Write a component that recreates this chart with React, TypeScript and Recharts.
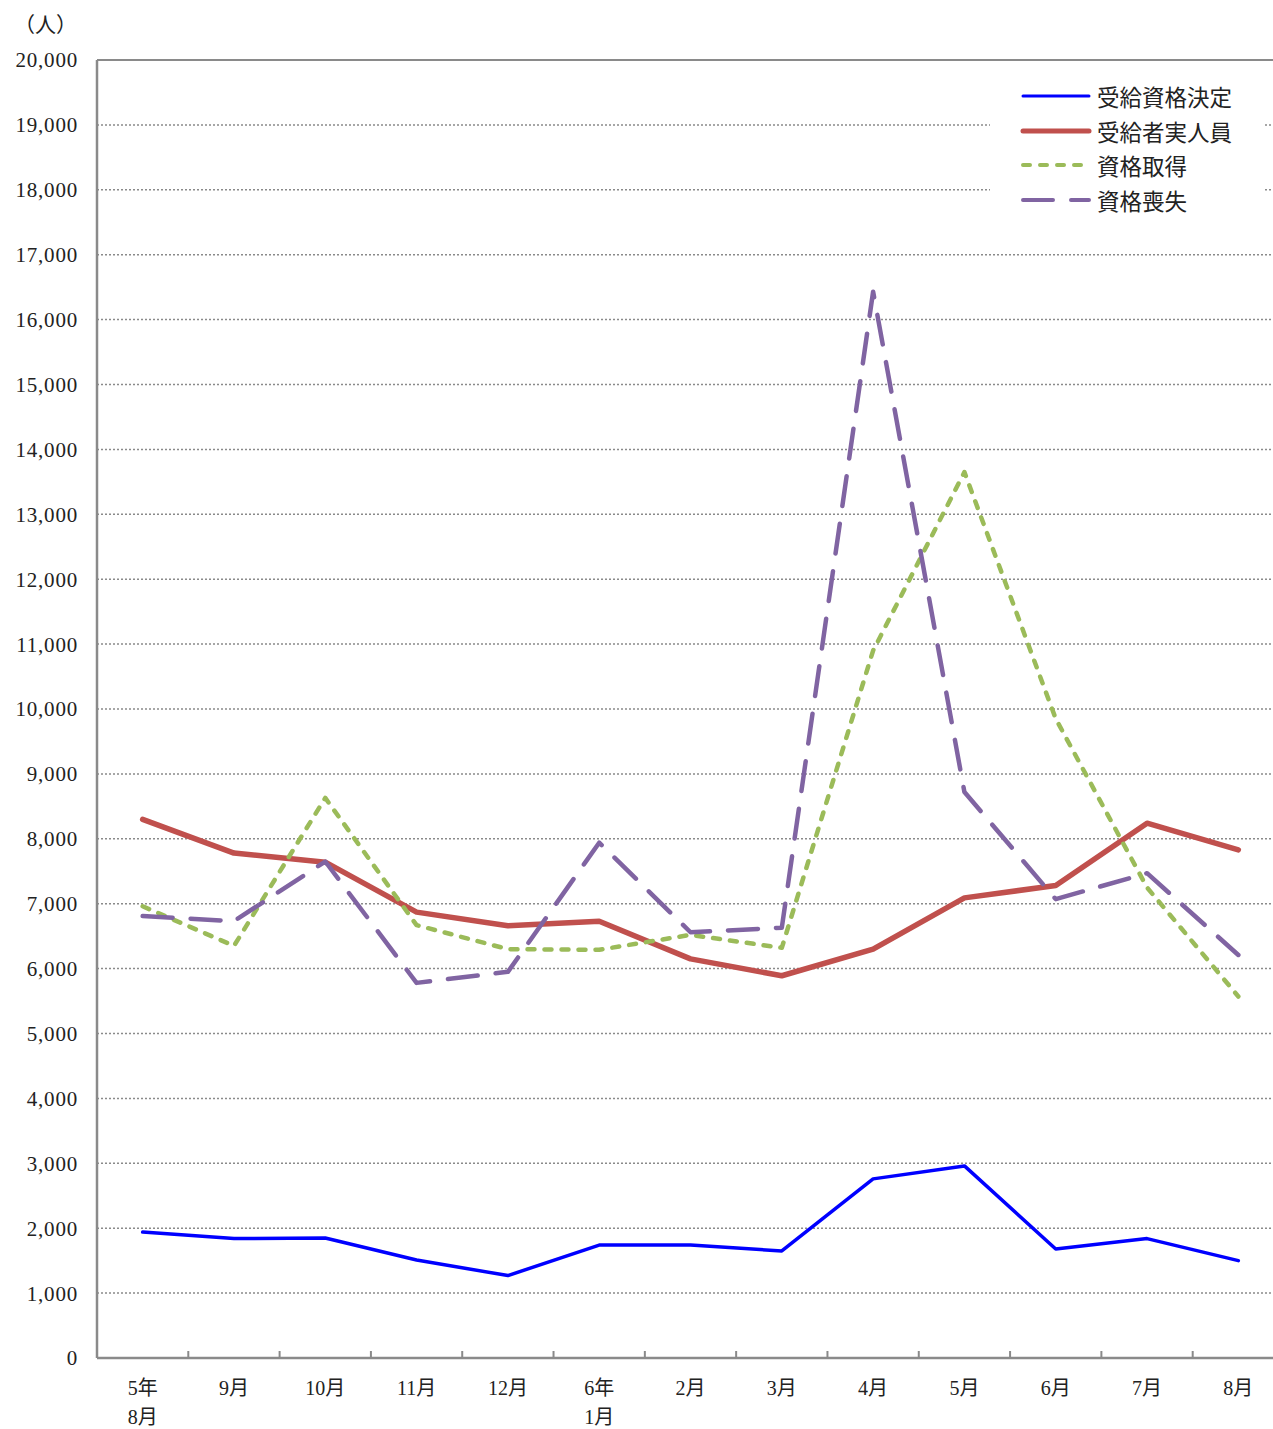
import React from 'react';
import {
  LineChart,
  Line,
  XAxis,
  YAxis,
  CartesianGrid,
  Legend,
  ReferenceLine
} from 'recharts';

// 月別の推移（人）
const categories = ['5年\n8月', '9月', '10月', '11月', '12月', '6年\n1月', '2月', '3月', '4月', '5月', '6月', '7月', '8月'];
const jukyuShikakuKettei = [1940, 1840, 1850, 1510, 1270, 1740, 1740, 1650, 2760, 2960, 1680, 1840, 1500];
const jukyushaJitsuJinin = [8300, 7780, 7640, 6870, 6660, 6730, 6150, 5890, 6300, 7090, 7280, 8240, 7830];
const shikakuShutoku = [6960, 6350, 8630, 6670, 6300, 6290, 6520, 6320, 10900, 13650, 9850, 7250, 5570];
const shikakuSoshitsu = [6810, 6730, 7650, 5780, 5950, 7940, 6560, 6630, 16430, 8720, 7070, 7470, 6210];
const yTicks = [0, 1000, 2000, 3000, 4000, 5000, 6000, 7000, 8000, 9000, 10000, 11000, 12000, 13000, 14000, 15000, 16000, 17000, 18000, 19000, 20000];

const seriesInfo = [
  { key: 'kettei', name: '受給資格決定', color: '#0000ff', width: 3.5, dash: undefined },
  { key: 'jinin', name: '受給者実人員', color: '#c0504d', width: 5.5, dash: undefined },
  { key: 'shutoku', name: '資格取得', color: '#9bbb59', width: 4.5, dash: '7 10' },
  { key: 'soshitsu', name: '資格喪失', color: '#8064a2', width: 4.5, dash: '30 18' }
];

const data = categories.map((c, i) => ({
  month: c,
  kettei: jukyuShikakuKettei[i],
  jinin: jukyushaJitsuJinin[i],
  shutoku: shikakuShutoku[i],
  soshitsu: shikakuSoshitsu[i]
}));

const FONT = '"Liberation Serif", "Noto Sans CJK JP", serif';
const PAD = 45.65; // half a category slot
const GRAY = '#8a8a8a';

const XTick = (props: any) => {
  const { x, y, payload, index } = props;
  const lines = String(payload.value).split('\n');
  return (
    <g>
      {index < categories.length - 1 && (
        <line x1={x + PAD} x2={x + PAD} y1={y - 7} y2={y} stroke={GRAY} strokeWidth={2} />
      )}
      <text x={x} y={y} textAnchor="middle" fontSize={20} fill="#222" fontFamily={FONT}>
        {lines.map((l, i) => (
          <tspan key={i} x={x} dy={i === 0 ? 37 : 29}>{l}</tspan>
        ))}
      </text>
    </g>
  );
};

const renderLegend = () => (
  <div style={{ background: '#fff', width: 275, height: 144, paddingTop: 2, paddingLeft: 30, boxSizing: 'border-box', fontFamily: FONT }}>
    {seriesInfo.map((s) => (
      <div key={s.key} style={{ display: 'flex', alignItems: 'center', height: 34.5 }}>
        <svg width={72} height={10} style={{ marginRight: 5 }}>
          <line x1={3} x2={69} y1={5} y2={5} stroke={s.color} strokeWidth={s.width - 0.5}
            strokeDasharray={s.dash} strokeLinecap="round" />
        </svg>
        <span style={{ fontSize: 22.5, color: '#222', whiteSpace: 'nowrap' }}>{s.name}</span>
      </div>
    ))}
  </div>
);

export default function App() {
  return (
    <div style={{ position: 'absolute', left: 0, top: 0, width: 1273, height: 1429, overflow: 'hidden', background: '#fff' }}>
      <div style={{ position: 'absolute', left: 14, top: 8, fontSize: 21, fontFamily: FONT, color: '#222' }}>（人）</div>
      <LineChart width={1284} height={1429} data={data} margin={{ top: 60, right: 0, left: 0, bottom: 11 }}>
        <CartesianGrid vertical={false} stroke={GRAY} strokeWidth={1.5} strokeDasharray="2 2" />
        <XAxis
          dataKey="month"
          interval={0}
          height={60}
          padding={{ left: PAD, right: PAD }}
          axisLine={{ stroke: GRAY, strokeWidth: 2.5 }}
          tickLine={false}
          tickSize={0}
          tickMargin={0}
          tick={<XTick />}
        />
        <YAxis
          width={97}
          domain={[0, 20000]}
          ticks={yTicks}
          interval={0}
          axisLine={{ stroke: GRAY, strokeWidth: 2.5 }}
          tickLine={false}
          tickSize={0}
          tickMargin={19}
          tick={{ fontSize: 21, fill: '#222', fontFamily: FONT, letterSpacing: 0.8 }}
          tickFormatter={(v: number) => v.toLocaleString('en-US')}
        />
        <ReferenceLine y={20000} stroke={GRAY} strokeWidth={2} />
        <Legend
          layout="vertical"
          align="center"
          verticalAlign="middle"
          content={renderLegend}
          wrapperStyle={{ position: 'absolute', top: 77, left: 990, width: 275 }}
        />
        {seriesInfo.map((s) => (
          <Line
            key={s.key}
            dataKey={s.key}
            name={s.name}
            type="linear"
            stroke={s.color}
            strokeWidth={s.width}
            strokeDasharray={s.dash}
            strokeLinecap="round"
            strokeLinejoin="round"
            dot={false}
            activeDot={false}
            isAnimationActive={false}
          />
        ))}
      </LineChart>
    </div>
  );
}
